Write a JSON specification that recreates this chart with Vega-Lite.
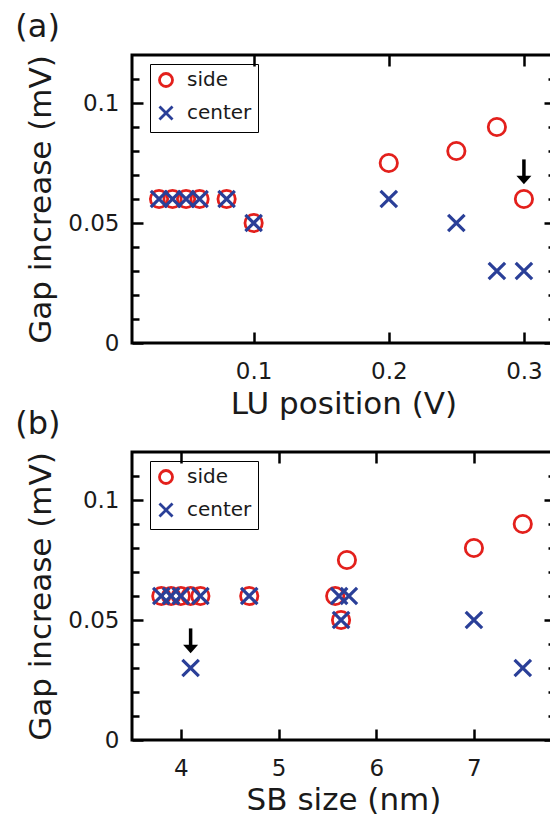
{
  "$schema": "https://vega.github.io/schema/vega-lite/v6.json",
  "padding": {"left": 13, "top": 9, "right": 0, "bottom": 0},
  "background": "white",
  "config": {
    "font": "DejaVu Sans",
    "view": {"stroke": "black", "strokeWidth": 3},
    "axis": {
      "domain": false, "grid": false, "tickColor": "black", "tickWidth": 2.5,
      "labelFont": "DejaVu Sans", "labelFontSize": 23, "labelColor": "#1a1a1a",
      "titleFont": "DejaVu Sans", "titleFontSize": 31, "titleFontWeight": "normal", "titleColor": "#1a1a1a",
      "labelFlush": false, "labelOverlap": false
    },
    "legend": {
      "orient": "none", "legendX": 18, "legendY": 9, "title": null,
      "strokeColor": "black", "padding": 6, "labelFont": "DejaVu Sans", "labelFontSize": 20,
      "labelColor": "#1a1a1a", "symbolSize": 170, "symbolStrokeWidth": 2.8, "rowPadding": 7, "labelOffset": 11
    },
    "title": {"font": "DejaVu Sans", "fontSize": 32, "fontWeight": "normal", "color": "#1a1a1a", "anchor": "start", "frame": "bounds"}
  },
  "datasets": {
    "pts": [
      {"panel": "a", "type": "side", "x": 0.03, "y": 0.06},
      {"panel": "a", "type": "side", "x": 0.04, "y": 0.06},
      {"panel": "a", "type": "side", "x": 0.05, "y": 0.06},
      {"panel": "a", "type": "side", "x": 0.06, "y": 0.06},
      {"panel": "a", "type": "side", "x": 0.08, "y": 0.06},
      {"panel": "a", "type": "side", "x": 0.1, "y": 0.05},
      {"panel": "a", "type": "side", "x": 0.2, "y": 0.075},
      {"panel": "a", "type": "side", "x": 0.25, "y": 0.08},
      {"panel": "a", "type": "side", "x": 0.28, "y": 0.09},
      {"panel": "a", "type": "side", "x": 0.3, "y": 0.06},
      {"panel": "a", "type": "center", "x": 0.03, "y": 0.06},
      {"panel": "a", "type": "center", "x": 0.04, "y": 0.06},
      {"panel": "a", "type": "center", "x": 0.05, "y": 0.06},
      {"panel": "a", "type": "center", "x": 0.06, "y": 0.06},
      {"panel": "a", "type": "center", "x": 0.08, "y": 0.06},
      {"panel": "a", "type": "center", "x": 0.1, "y": 0.05},
      {"panel": "a", "type": "center", "x": 0.2, "y": 0.06},
      {"panel": "a", "type": "center", "x": 0.25, "y": 0.05},
      {"panel": "a", "type": "center", "x": 0.28, "y": 0.03},
      {"panel": "a", "type": "center", "x": 0.3, "y": 0.03},
      {"panel": "b", "type": "side", "x": 3.8, "y": 0.06},
      {"panel": "b", "type": "side", "x": 3.9, "y": 0.06},
      {"panel": "b", "type": "side", "x": 4.0, "y": 0.06},
      {"panel": "b", "type": "side", "x": 4.1, "y": 0.06},
      {"panel": "b", "type": "side", "x": 4.2, "y": 0.06},
      {"panel": "b", "type": "side", "x": 4.7, "y": 0.06},
      {"panel": "b", "type": "side", "x": 5.58, "y": 0.06},
      {"panel": "b", "type": "side", "x": 5.64, "y": 0.05},
      {"panel": "b", "type": "side", "x": 5.7, "y": 0.075},
      {"panel": "b", "type": "side", "x": 7.0, "y": 0.08},
      {"panel": "b", "type": "side", "x": 7.5, "y": 0.09},
      {"panel": "b", "type": "center", "x": 3.8, "y": 0.06},
      {"panel": "b", "type": "center", "x": 3.9, "y": 0.06},
      {"panel": "b", "type": "center", "x": 4.0, "y": 0.06},
      {"panel": "b", "type": "center", "x": 4.2, "y": 0.06},
      {"panel": "b", "type": "center", "x": 4.1, "y": 0.03},
      {"panel": "b", "type": "center", "x": 4.7, "y": 0.06},
      {"panel": "b", "type": "center", "x": 5.62, "y": 0.06},
      {"panel": "b", "type": "center", "x": 5.72, "y": 0.06},
      {"panel": "b", "type": "center", "x": 5.64, "y": 0.05},
      {"panel": "b", "type": "center", "x": 7.0, "y": 0.05},
      {"panel": "b", "type": "center", "x": 7.5, "y": 0.03}
    ],
    "arrows": [
      {"panel": "a", "x": 0.3, "y": 0.0765, "y2": 0.069, "yh": 0.068},
      {"panel": "b", "x": 4.1, "y": 0.0465, "y2": 0.039, "yh": 0.038}
    ]
  },
  "resolve": {
    "scale": {"x": "independent", "y": "independent", "color": "independent", "shape": "independent"},
    "legend": {"color": "independent", "shape": "independent"}
  },
  "spacing": -15,
  "vconcat": [
    {
      "width": 423, "height": 288,
      "title": {"text": "(a)", "dx": -10.5, "offset": 10},
      "layer": [
        {
          "data": {"name": "pts"},
          "transform": [{"filter": "datum.panel == 'a' && datum.type == 'side'"}],
          "mark": {"type": "point", "filled": false, "strokeWidth": 2.8, "size": 300, "opacity": 1},
          "encoding": {
            "x": {"field": "x", "type": "quantitative", "scale": {"domain": [0.01, 0.323], "nice": false, "zero": false},
              "axis": {"orient": "bottom", "title": "LU position (V)", "values": [0.1, 0.2, 0.3], "tickSize": -11, "labelPadding": 28, "titlePadding": 6}},
            "y": {"field": "y", "type": "quantitative", "scale": {"domain": [0, 0.12], "nice": false, "zero": false},
              "axis": {"orient": "left", "title": "Gap increase (mV)", "values": [0, 0.01, 0.02, 0.03, 0.04, 0.05, 0.06, 0.07, 0.08, 0.09, 0.1, 0.11],
                "tickSize": {"condition": {"test": "round(datum.value*100) % 5 == 0", "value": -11}, "value": -7},
                "labelExpr": "round(datum.value*100) % 5 == 0 ? format(datum.value, '') : ''", "labelPadding": 24, "titlePadding": 10}},
            "color": {"field": "type", "type": "nominal", "scale": {"domain": ["side", "center"], "range": ["#e3201c", "#2a3f98"]}},
            "shape": {"field": "type", "type": "nominal", "scale": {"domain": ["side", "center"], "range": ["circle", "M-1,-1L1,1M-1,1L1,-1"]}}
          }
        },
        {
          "data": {"name": "pts"},
          "transform": [{"filter": "datum.panel == 'a' && datum.type == 'center'"}],
          "mark": {"type": "point", "filled": false, "strokeWidth": 3.2, "size": 270, "opacity": 1},
          "encoding": {
            "x": {"field": "x", "type": "quantitative", "scale": {"domain": [0.01, 0.323], "nice": false, "zero": false},
              "axis": {"orient": "top", "title": null, "labels": false, "values": [0.1, 0.2, 0.3], "tickSize": -11}},
            "y": {"field": "y", "type": "quantitative", "scale": {"domain": [0, 0.12], "nice": false, "zero": false},
              "axis": {"orient": "right", "title": null, "labels": false, "values": [0, 0.01, 0.02, 0.03, 0.04, 0.05, 0.06, 0.07, 0.08, 0.09, 0.1, 0.11],
                "tickSize": {"condition": {"test": "round(datum.value*100) % 5 == 0", "value": -11}, "value": -7}}},
            "color": {"field": "type", "type": "nominal", "scale": {"domain": ["side", "center"], "range": ["#e3201c", "#2a3f98"]}},
            "shape": {"field": "type", "type": "nominal", "scale": {"domain": ["side", "center"], "range": ["circle", "M-1,-1L1,1M-1,1L1,-1"]}}
          }
        },
        {
          "data": {"name": "arrows"},
          "transform": [{"filter": "datum.panel == 'a'"}],
          "mark": {"type": "rule", "color": "black", "strokeWidth": 3.5},
          "encoding": {
            "x": {"field": "x", "type": "quantitative", "axis": null},
            "y": {"field": "y", "type": "quantitative", "axis": null},
            "y2": {"field": "y2"}
          }
        },
        {
          "data": {"name": "arrows"},
          "transform": [{"filter": "datum.panel == 'a'"}],
          "mark": {"type": "point", "shape": "M-1,-0.55L1,-0.55L0,0.6Z", "filled": true, "color": "black", "size": 225, "opacity": 1},
          "encoding": {
            "x": {"field": "x", "type": "quantitative", "axis": null},
            "y": {"field": "yh", "type": "quantitative", "axis": null}
          }
        }
      ]
    },
    {
      "width": 423, "height": 288,
      "title": {"text": "(b)", "dx": -10.5, "offset": 10},
      "layer": [
        {
          "data": {"name": "pts"},
          "transform": [{"filter": "datum.panel == 'b' && datum.type == 'side'"}],
          "mark": {"type": "point", "filled": false, "strokeWidth": 2.8, "size": 300, "opacity": 1},
          "encoding": {
            "x": {"field": "x", "type": "quantitative", "scale": {"domain": [3.5, 7.83], "nice": false, "zero": false},
              "axis": {"orient": "bottom", "title": "SB size (nm)", "values": [4, 5, 6, 7], "tickSize": -11, "labelPadding": 28, "titlePadding": 5}},
            "y": {"field": "y", "type": "quantitative", "scale": {"domain": [0, 0.12], "nice": false, "zero": false},
              "axis": {"orient": "left", "title": "Gap increase (mV)", "values": [0, 0.01, 0.02, 0.03, 0.04, 0.05, 0.06, 0.07, 0.08, 0.09, 0.1, 0.11],
                "tickSize": {"condition": {"test": "round(datum.value*100) % 5 == 0", "value": -11}, "value": -7},
                "labelExpr": "round(datum.value*100) % 5 == 0 ? format(datum.value, '') : ''", "labelPadding": 24, "titlePadding": 10}},
            "color": {"field": "type", "type": "nominal", "scale": {"domain": ["side", "center"], "range": ["#e3201c", "#2a3f98"]}},
            "shape": {"field": "type", "type": "nominal", "scale": {"domain": ["side", "center"], "range": ["circle", "M-1,-1L1,1M-1,1L1,-1"]}}
          }
        },
        {
          "data": {"name": "pts"},
          "transform": [{"filter": "datum.panel == 'b' && datum.type == 'center'"}],
          "mark": {"type": "point", "filled": false, "strokeWidth": 3.2, "size": 270, "opacity": 1},
          "encoding": {
            "x": {"field": "x", "type": "quantitative", "scale": {"domain": [3.5, 7.83], "nice": false, "zero": false},
              "axis": {"orient": "top", "title": null, "labels": false, "values": [4, 5, 6, 7], "tickSize": -11}},
            "y": {"field": "y", "type": "quantitative", "scale": {"domain": [0, 0.12], "nice": false, "zero": false},
              "axis": {"orient": "right", "title": null, "labels": false, "values": [0, 0.01, 0.02, 0.03, 0.04, 0.05, 0.06, 0.07, 0.08, 0.09, 0.1, 0.11],
                "tickSize": {"condition": {"test": "round(datum.value*100) % 5 == 0", "value": -11}, "value": -7}}},
            "color": {"field": "type", "type": "nominal", "scale": {"domain": ["side", "center"], "range": ["#e3201c", "#2a3f98"]}},
            "shape": {"field": "type", "type": "nominal", "scale": {"domain": ["side", "center"], "range": ["circle", "M-1,-1L1,1M-1,1L1,-1"]}}
          }
        },
        {
          "data": {"name": "arrows"},
          "transform": [{"filter": "datum.panel == 'b'"}],
          "mark": {"type": "rule", "color": "black", "strokeWidth": 3.5},
          "encoding": {
            "x": {"field": "x", "type": "quantitative", "axis": null},
            "y": {"field": "y", "type": "quantitative", "axis": null},
            "y2": {"field": "y2"}
          }
        },
        {
          "data": {"name": "arrows"},
          "transform": [{"filter": "datum.panel == 'b'"}],
          "mark": {"type": "point", "shape": "M-1,-0.55L1,-0.55L0,0.6Z", "filled": true, "color": "black", "size": 225, "opacity": 1},
          "encoding": {
            "x": {"field": "x", "type": "quantitative", "axis": null},
            "y": {"field": "yh", "type": "quantitative", "axis": null}
          }
        }
      ]
    }
  ]
}
